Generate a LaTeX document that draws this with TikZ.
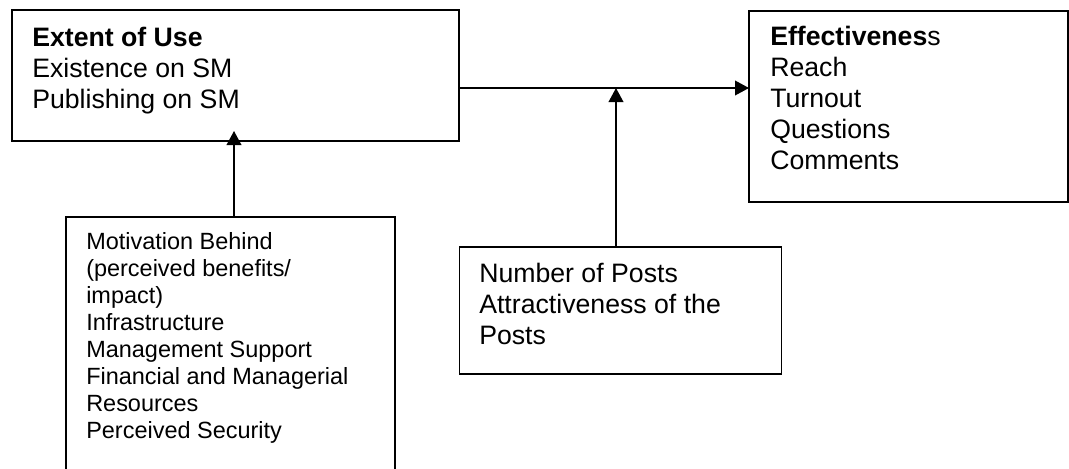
\documentclass[tikz,border=0pt]{standalone}
\usepackage{fontspec}
\setmainfont{Liberation Sans}
\usetikzlibrary{arrows.meta}
\begin{document}
\begin{tikzpicture}[x=0.75pt,y=-0.75pt,
  box/.style={draw,line width=1.2pt,rectangle,inner sep=0pt,outer sep=0pt},
  openbox/.style={rectangle,inner sep=0pt,outer sep=0pt},
  big/.style={anchor=base west,inner sep=0pt,align=left,font=\fontsize{20}{23.25}\selectfont},
  small/.style={anchor=base west,inner sep=0pt,align=left,font=\fontsize{17.6}{20.25}\selectfont},
  arr/.style={line width=1.2pt,-{Triangle[length=10.5pt,width=11pt]}}]
\useasboundingbox (0,0) rectangle (1069,468);
% boxes
\node[box,minimum width=335.25pt,minimum height=98.25pt] (b1) at (235.5,75.5) {};
\node[box,minimum width=239.25pt,minimum height=143.25pt] (b2) at (908.5,106.5) {};
\node[openbox,minimum width=246.75pt,minimum height=189.75pt] (b3) at (230.5,343.5) {};
\draw[line width=1.2pt] (b3.south west) -- (b3.north west) -- (b3.north east) -- (b3.south east);
\node[box,minimum width=241.5pt,minimum height=95.25pt] (b4) at (620.5,310.5) {};
% texts (anchored at the baseline of the last line)
\node[big] (t1) at (32,108.5) {\textbf{Extent of Use}\\Existence on SM\\Publishing on SM};
\node[big] (t2) at (770,169.7) {\textbf{Effectivenes}s\\Reach\\Turnout\\Questions\\Comments};
\node[small] (t3) at (86,438.5) {Motivation Behind\\(perceived benefits/\\impact)\\Infrastructure\\Management Support\\Financial and Managerial\\Resources\\Perceived Security};
\node[big] (t4) at (479,344.5) {Number of Posts\\Attractiveness of the\\Posts};
% connectors
\coordinate (m1) at (234,0);
\coordinate (jn) at (616,88);
\draw[arr] (b3.north -| m1) -- ([yshift=7.5pt]b1.south -| m1);
\draw[arr] (b1.east |- jn) -- (b2.west |- jn);
\draw[arr] (b4.north -| jn) -- (jn);
\end{tikzpicture}
\end{document}
